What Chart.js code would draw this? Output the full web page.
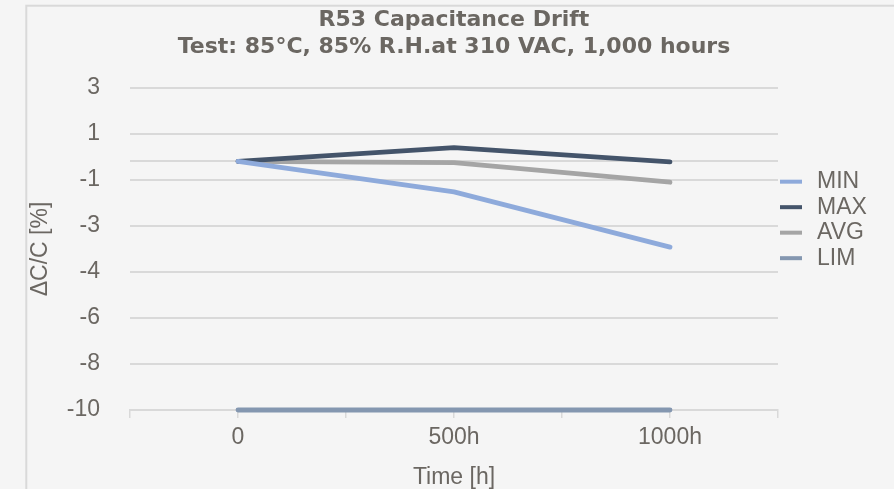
<!DOCTYPE html>
<html><head><meta charset="utf-8">
<script src="https://cdn.jsdelivr.net/npm/chart.js@4.4.1/dist/chart.umd.min.js"></script>
<style>html,body{margin:0;padding:0;background:#f5f5f5;overflow:hidden}#wrap{width:894px;height:489px;position:relative}</style>
</head><body><div id="wrap"><canvas id="c" width="894" height="489"></canvas></div>
<script>
const hours = [0, 500, 1000];
const xTickLabels = ['0', '500h', '1000h'];
const seriesNames = ['MIN', 'MAX', 'AVG', 'LIM'];
const minValues = [0, -1.23, -3.45];
const maxValues = [0, 0.55, -0.02];
const avgValues = [0, -0.05, -0.84];
const limValues = [-10, -10, -10];
const yTickValues = [-10, -8.15, -6.3, -4.45, -2.6, -0.75, 0, 1.1, 2.95];
const yTickLabels = ['-10', '-8', '-6', '-4', '-3', '-1', '', '1', '3'];
const seriesColors = ['#8eaadb', '#44546a', '#a5a5a5', '#8497b0'];

const textColor = '#6b6762';
const gridColor = '#d9d9d9';
const baseFont = "'Liberation Sans', Arial, sans-serif";

const allValues = [minValues, maxValues, avgValues, limValues];
const datasets = seriesNames.map((name, s) => ({
  label: name,
  data: hours.map((h, i) => ({x: h, y: allValues[s][i]})),
  borderColor: seriesColors[s],
  backgroundColor: seriesColors[s],
  borderWidth: 4.8,
  borderCapStyle: 'round',
  borderJoinStyle: 'round',
  pointRadius: 0,
  tension: 0,
  fill: false,
  clip: 10
}));

const bgPlugin = {
  id: 'bg',
  beforeDraw(chart) {
    const ctx = chart.ctx;
    ctx.save();
    ctx.fillStyle = '#f5f5f5';
    ctx.fillRect(0, 0, chart.width, chart.height);
    ctx.strokeStyle = gridColor;
    ctx.lineWidth = 2;
    ctx.strokeRect(26.3, 5.7, 1200, 1200);
    ctx.restore();
  }
};

const legendPlugin = {
  id: 'sideLegend',
  afterDraw(chart) {
    const ctx = chart.ctx;
    const area = chart.chartArea;
    const x0 = area.right + 2;
    const y0 = area.top + 93.7;
    ctx.save();
    ctx.font = "23px " + baseFont;
    ctx.textBaseline = 'middle';
    ctx.textAlign = 'left';
    chart.data.datasets.forEach((ds, i) => {
      const y = y0 + i * 25.5;
      ctx.strokeStyle = ds.borderColor;
      ctx.lineWidth = 4;
      ctx.lineCap = 'butt';
      ctx.beginPath();
      ctx.moveTo(x0, y);
      ctx.lineTo(x0 + 22, y);
      ctx.stroke();
      ctx.fillStyle = textColor;
      ctx.fillText(ds.label, x0 + 37, y);
    });
    ctx.restore();
  }
};

new Chart(document.getElementById('c'), {
  type: 'line',
  data: {datasets},
  plugins: [bgPlugin, legendPlugin],
  options: {
    responsive: false,
    animation: false,
    devicePixelRatio: 1,
    layout: {padding: {left: 27, right: 116, top: 0, bottom: 0}},
    plugins: {
      legend: {display: false},
      tooltip: {enabled: false},
      title: {
        display: true,
        fullSize: false,
        text: ['R53 Capacitance Drift', 'Test: 85°C, 85% R.H.at 310 VAC, 1,000 hours'],
        color: textColor,
        font: {family: "'DejaVu Sans', sans-serif", size: 22, weight: 'bold', lineHeight: 1.22},
        padding: {top: 7, bottom: 27.3}
      }
    },
    scales: {
      x: {
        type: 'linear',
        min: -250,
        max: 1250,
        afterFit(scale) { scale.height = 79; },
        afterBuildTicks(scale) {
          const t = [];
          for (let v = -250; v <= 1250; v += 250) t.push({value: v});
          scale.ticks = t;
        },
        ticks: {
          autoSkip: false,
          maxRotation: 0,
          padding: 6,
          color: textColor,
          font: {family: baseFont, size: 23},
          callback(v) { const i = hours.indexOf(v); return i >= 0 ? xTickLabels[i] : ''; }
        },
        grid: {drawOnChartArea: false, drawTicks: true, tickLength: 8, color: gridColor, lineWidth: 1.5},
        border: {display: true, color: gridColor, width: 2},
        title: {
          display: true,
          text: 'Time [h]',
          color: textColor,
          font: {family: baseFont, size: 23, lineHeight: 1},
          padding: {top: 0, bottom: 0}
        }
      },
      y: {
        type: 'linear',
        min: -10,
        max: 2.95,
        afterFit(scale) { scale.width = 103; },
        afterBuildTicks(scale) { scale.ticks = yTickValues.map(v => ({value: v})); },
        ticks: {
          padding: 30,
          color: textColor,
          font: {family: baseFont, size: 23},
          callback(v, i) { return yTickLabels[i]; }
        },
        grid: {drawTicks: false, color: gridColor, lineWidth: 2},
        border: {display: false},
        title: {
          display: true,
          text: 'ΔC/C [%]',
          color: textColor,
          font: {family: baseFont, size: 23},
          padding: {top: 0, bottom: 0}
        }
      }
    }
  }
});
</script>
</body></html>
